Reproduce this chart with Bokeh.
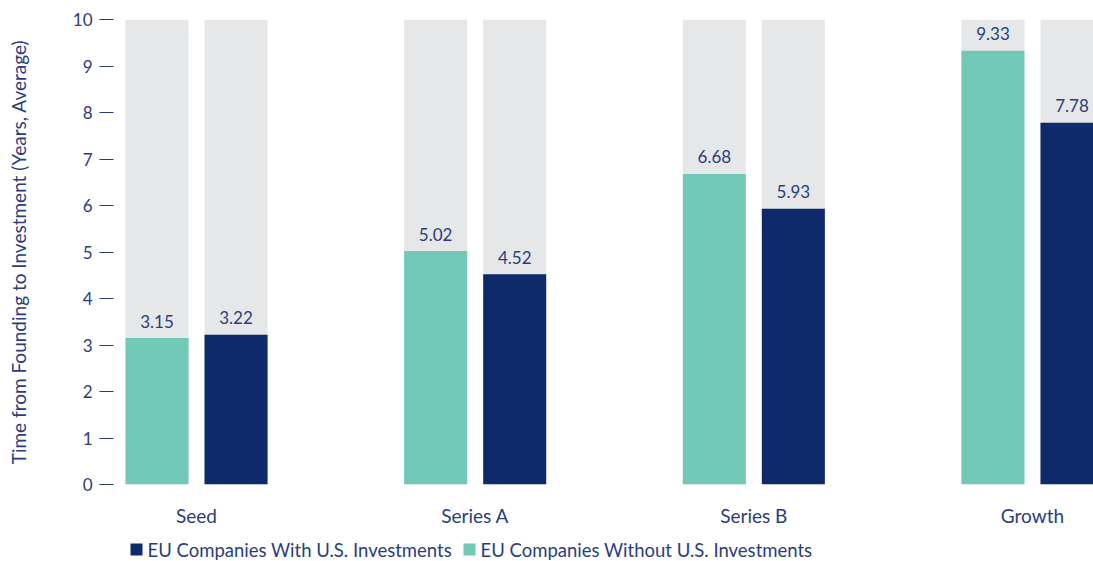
from bokeh.plotting import figure
from bokeh.layouts import column
from bokeh.models import Range1d, FixedTicker, ColumnDataSource
from bokeh.transform import dodge
from bokeh.core.properties import value
from bokeh.embed import file_html
from bokeh.resources import INLINE

categories = ["Seed", "Series A", "Series B", "Growth"]
without_us = [3.15, 5.02, 6.68, 9.33]
with_us = [3.22, 4.52, 5.93, 7.78]
y_ticks = [0, 1, 2, 3, 4, 5, 6, 7, 8, 9, 10]
y_max = 10
series_names = ["EU Companies With U.S. Investments", "EU Companies Without U.S. Investments"]

FONT = "Lato"
TEXT = "#2B3D7C"
TEAL = "#73C9B7"
NAVY = "#0F2A6B"
GREY = "#E6E7E9"
OFF = 0.1418
BW = 0.2262

xs = list(range(len(categories)))
src = ColumnDataSource(dict(
    x=xs, cat=categories, wo=without_us, w=with_us,
    top=[y_max] * len(xs),
    wo_lbl=[f"{v:.2f}" for v in without_us],
    w_lbl=[f"{v:.2f}" for v in with_us],
))

p = figure(width=1093, height=531, x_range=Range1d(-0.298, 3.219), y_range=Range1d(0, y_max),
           output_backend="svg", toolbar_location=None,
           min_border_left=113, min_border_right=0, min_border_top=19, min_border_bottom=47)
p.outline_line_color = None
p.grid.visible = False
p.background_fill_color = "white"

# grey backgrounds
p.vbar(x=dodge("x", -OFF, range=p.x_range), top="top", bottom=0, width=BW, source=src,
       fill_color=GREY, line_color=None)
p.vbar(x=dodge("x", OFF, range=p.x_range), top="top", bottom=0, width=BW, source=src,
       fill_color=GREY, line_color=None)

p.vbar(x=dodge("x", -OFF, range=p.x_range), top="wo", bottom=0, width=BW, source=src,
       fill_color=TEAL, line_color=None)
p.vbar(x=dodge("x", OFF, range=p.x_range), top="w", bottom=0, width=BW, source=src,
       fill_color=NAVY, line_color=None)

for col, lbl, off in (("wo", "wo_lbl", -OFF), ("w", "w_lbl", OFF)):
    p.text(x=dodge("x", off, range=p.x_range), y=col, text=lbl, source=src,
           text_align="center", text_baseline="middle", y_offset=-17,
           text_font=value(FONT), text_font_size="17px", text_color=TEXT)

# y axis
ya = p.yaxis[0]
ya.ticker = FixedTicker(ticks=y_ticks)
ya.axis_line_color = None
ya.major_tick_out = 14
ya.major_tick_in = 0
ya.minor_tick_line_color = None
ya.major_tick_line_color = TEXT
ya.major_label_standoff = 7
ya.major_label_text_font = FONT
ya.major_label_text_font_size = "17px"
ya.major_label_text_color = TEXT
ya.axis_label = "Time from Founding to Investment (Years, Average)"
ya.axis_label_standoff = 40
ya.axis_label_text_font = FONT
ya.axis_label_text_font_size = "19px"
ya.axis_label_text_font_style = "normal"
ya.axis_label_text_color = TEXT

# x axis
xa = p.xaxis[0]
xa.ticker = FixedTicker(ticks=xs)
xa.major_label_overrides = {i: c for i, c in zip(xs, categories)}
xa.axis_line_color = None
xa.major_tick_line_color = None
xa.minor_tick_line_color = None
xa.major_tick_out = 0
xa.major_label_standoff = 19
xa.major_label_text_font = FONT
xa.major_label_text_font_size = "19px"
xa.major_label_text_color = TEXT

# legend strip below the chart (its frame is aligned with the chart frame: 113..1093 px)
lg = figure(width=1093, height=30, x_range=Range1d(113, 1093), y_range=Range1d(0, 30),
            output_backend="svg", toolbar_location=None,
            x_axis_location=None, y_axis_location=None,
            min_border_left=113, min_border_right=0, min_border_top=0, min_border_bottom=0)
lg.outline_line_color = None
lg.grid.visible = False
key_x = [136, 469]
key_y = [12, 12]
leg_src = ColumnDataSource(dict(kx=key_x, ky=key_y, tx=[k + 11 for k in key_x],
                                name=series_names, color=[NAVY, TEAL]))
lg.scatter(x="kx", y="ky", marker="square", size=12, fill_color="color", line_color=None,
           source=leg_src)
lg.text(x="tx", y="ky", text="name", source=leg_src, text_align="left", text_baseline="middle",
        text_font=value(FONT), text_font_size="18.5px", text_color=TEXT)

layout = column(p, lg, spacing=0)
open("out.html", "w").write(file_html(layout, INLINE))
